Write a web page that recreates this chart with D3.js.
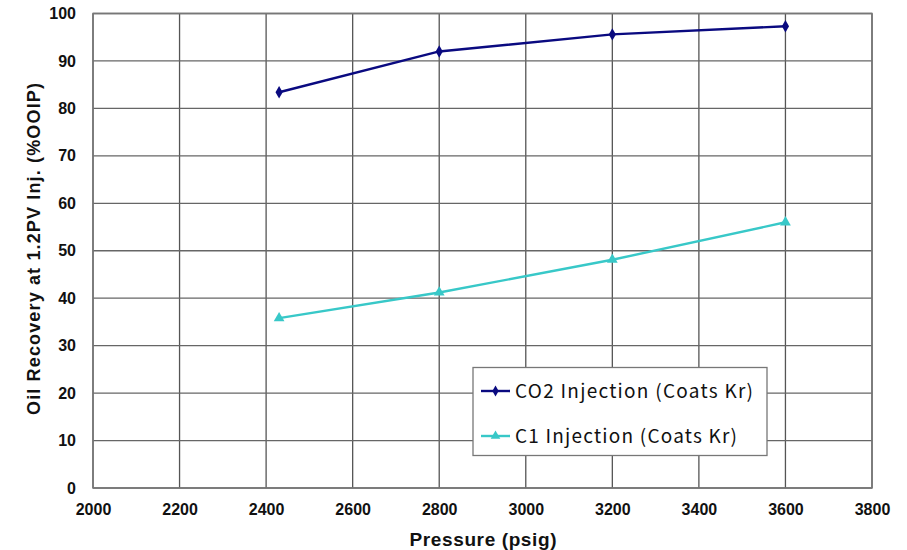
<!DOCTYPE html>
<html>
<head>
<meta charset="utf-8">
<script src="https://cdn.jsdelivr.net/npm/d3@7"></script>
<style>
  body { margin: 0; background: #fff; }
  svg { display: block; }
  .tick text { font-family: "Liberation Sans", Arial, sans-serif; font-weight: bold; font-size: 16px; fill: #111; }
</style>
</head>
<body>
<script>
var pressure = [2430, 2800, 3200, 3600],
	co2Recovery = [83.4, 92.0, 95.6, 97.3],
	c1Recovery = [35.8, 41.2, 48.1, 56.0],
	xTicks = [2000, 2200, 2400, 2600, 2800, 3000, 3200, 3400, 3600, 3800],
	yTicks = [0, 10, 20, 30, 40, 50, 60, 70, 80, 90, 100],
	seriesNames = ["CO2 Injection (Coats Kr)", "C1 Injection (Coats Kr)"],
	seriesColors = ["#0a0a80", "#38c8c8"];

var w = 907,
	h = 550,
	m = { left: 93, right: 35, top: 13.5, bottom: 62 };

var svg = d3.select("body")
	.append("svg")
	.attr("width", w)
	.attr("height", h);

var x = d3.scaleLinear().domain([2000, 3800]).range([m.left, w - m.right]);
var y = d3.scaleLinear().domain([0, 100]).range([h - m.bottom, m.top]);

// grid
svg.append("g")
	.selectAll("line")
	.data(xTicks)
	.enter()
	.append("line")
	.attr("x1", function (d) { return x(d); })
	.attr("x2", function (d) { return x(d); })
	.attr("y1", y(0))
	.attr("y2", y(100))
	.attr("stroke", "#555")
	.attr("stroke-width", 1.3);

svg.append("g")
	.selectAll("line")
	.data(yTicks)
	.enter()
	.append("line")
	.attr("x1", x(2000))
	.attr("x2", x(3800))
	.attr("y1", function (d) { return y(d); })
	.attr("y2", function (d) { return y(d); })
	.attr("stroke", "#666")
	.attr("stroke-width", 1.3);

svg.append("rect")
	.attr("x", x(2000))
	.attr("y", y(100))
	.attr("width", x(3800) - x(2000))
	.attr("height", y(0) - y(100))
	.attr("fill", "none")
	.attr("stroke", "#777")
	.attr("stroke-width", 1.5);

// axes (labels only)
var xAxis = svg.append("g")
	.attr("transform", "translate(0," + y(0) + ")")
	.call(d3.axisBottom(x).tickValues(xTicks).tickSize(0).tickPadding(16).tickFormat(d3.format("d")));
xAxis.select(".domain").remove();

var yAxis = svg.append("g")
	.attr("transform", "translate(" + x(2000) + ",0)")
	.call(d3.axisLeft(y).tickValues(yTicks).tickSize(0).tickPadding(17));
yAxis.select(".domain").remove();

svg.append("text")
	.attr("x", 483)
	.attr("y", 546)
	.attr("text-anchor", "middle")
	.attr("textLength", 147)
	.style("font-family", "'Liberation Sans', Arial, sans-serif")
	.style("font-weight", "bold")
	.style("font-size", "19px")
	.attr("fill", "#111")
	.text("Pressure (psig)");

svg.append("text")
	.attr("transform", "translate(40,249) rotate(-90)")
	.attr("text-anchor", "middle")
	.attr("textLength", 332)
	.style("font-family", "'Liberation Sans', Arial, sans-serif")
	.style("font-weight", "bold")
	.style("font-size", "18px")
	.attr("fill", "#111")
	.text("Oil Recovery at 1.2PV Inj. (%OOIP)");

// series
var series = [co2Recovery, c1Recovery];
var line = d3.line()
	.x(function (d, i) { return x(pressure[i]); })
	.y(function (d) { return y(d); });

series.forEach(function (vals, s) {
	svg.append("path")
		.datum(vals)
		.attr("d", line)
		.attr("fill", "none")
		.attr("stroke", seriesColors[s])
		.attr("stroke-width", 2.4);

	svg.append("g")
		.selectAll("path")
		.data(vals)
		.enter()
		.append("path")
		.attr("d", d3.symbol().type(s === 0 ? d3.symbolDiamond : d3.symbolTriangle).size(s === 0 ? 45 : 50))
		.attr("transform", function (d, i) { return "translate(" + x(pressure[i]) + "," + y(d) + ")"; })
		.attr("fill", seriesColors[s]);
});

// legend
var legend = svg.append("g");
legend.append("rect")
	.attr("x", 473)
	.attr("y", 367.5)
	.attr("width", 294)
	.attr("height", 88)
	.attr("fill", "#fff")
	.attr("stroke", "#777")
	.attr("stroke-width", 1.3);

seriesNames.forEach(function (name, s) {
	var ly = 391 + s * 45;
	legend.append("line")
		.attr("x1", 481).attr("x2", 510)
		.attr("y1", ly).attr("y2", ly)
		.attr("stroke", seriesColors[s])
		.attr("stroke-width", 2.4);
	legend.append("path")
		.attr("d", d3.symbol().type(s === 0 ? d3.symbolDiamond : d3.symbolTriangle).size(s === 0 ? 35 : 40))
		.attr("transform", "translate(495.5," + ly + ")")
		.attr("fill", seriesColors[s]);
	legend.append("text")
		.attr("x", 515)
		.attr("y", ly)
		.attr("dy", "0.35em")
		.attr("textLength", s === 0 ? 238 : 222)
		.style("font-family", "'Noto Sans CJK JP', 'Noto Sans', sans-serif")
		.style("font-size", "19px")
		.attr("fill", "#111")
		.text(name);
});
</script>
</body>
</html>
